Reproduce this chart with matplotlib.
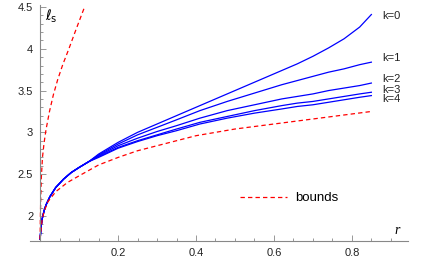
import numpy as np
import matplotlib.pyplot as plt
from matplotlib.ticker import MultipleLocator, FixedLocator
from matplotlib.lines import Line2D

plt.rcParams['font.family'] = ['Liberation Sans', 'DejaVu Sans']

# values
r_k = [0, 0.002, 0.005, 0.01, 0.015, 0.025, 0.04, 0.06, 0.08, 0.1, 0.125,
       0.15, 0.2, 0.25, 0.3, 0.35, 0.41, 0.48, 0.55, 0.62, 0.66, 0.7, 0.74, 0.78, 0.82, 0.85]
early = [1.72, 1.85, 1.96, 2.06, 2.13, 2.23, 2.34, 2.44, 2.52, 2.58, 2.65]
k0 = early + [2.74, 2.88, 3.00, 3.10, 3.20, 3.32, 3.46, 3.60, 3.74, 3.82, 3.91, 4.01, 4.12, 4.26, 4.41]
k1 = early + [2.73, 2.86, 2.97, 3.06, 3.15, 3.26, 3.37, 3.47, 3.57, 3.62, 3.67, 3.72, 3.76, 3.81, 3.84]
k2 = early + [2.72, 2.84, 2.93, 3.01, 3.08, 3.17, 3.26, 3.33, 3.40, 3.43, 3.46, 3.50, 3.53, 3.56, 3.59]
k3 = early + [2.71, 2.82, 2.90, 2.97, 3.04, 3.12, 3.19, 3.26, 3.32, 3.35, 3.37, 3.40, 3.43, 3.46, 3.48]
k4 = early + [2.70, 2.81, 2.89, 2.96, 3.02, 3.10, 3.17, 3.23, 3.28, 3.31, 3.33, 3.36, 3.39, 3.42, 3.44]
curves = [k0, k1, k2, k3, k4]
k_labels = ["k=0", "k=1", "k=2", "k=3", "k=4"]
k_label_y = [4.39, 3.89, 3.64, 3.51, 3.40]

r_low = [0, 0.005, 0.01, 0.02, 0.04, 0.07, 0.1, 0.15, 0.2, 0.25, 0.3, 0.4, 0.5, 0.6, 0.7, 0.85]
low = [1.72, 1.95, 2.05, 2.17, 2.29, 2.40, 2.48, 2.61, 2.70, 2.78, 2.84, 2.96, 3.04, 3.10, 3.16, 3.25]

r_up = [0, 0.0005, 0.0015, 0.003, 0.006, 0.01, 0.015, 0.024, 0.034, 0.045, 0.058, 0.073, 0.092, 0.114]
up = [1.72, 1.95, 2.2, 2.45, 2.7, 2.87, 3.03, 3.25, 3.45, 3.63, 3.81, 3.99, 4.23, 4.50]

fig = plt.figure(figsize=(4.22, 2.61), dpi=100)
ax = fig.add_axes([30/422, 20/261, 378/422, 236/261])

for y in curves:
    ax.plot(r_k, y, color='#0000ff', lw=0.9)
ax.plot(r_low, low, color='#ff0000', lw=0.9, dashes=(3.5, 2.5))
ax.plot(r_up, up, color='#ff0000', lw=0.9, dashes=(3.5, 2.5))

for lab, yl in zip(k_labels, k_label_y):
    ax.text(0.877, yl, lab, fontsize=8, va='center', ha='left', color='#222222')

ax.set_xlim(-0.026, 0.944)
ax.set_ylim(1.70, 4.524)

for s in ['top', 'right']:
    ax.spines[s].set_visible(False)
ax.spines['left'].set_position(('data', 0))
ax.spines['left'].set_color('#888888')
ax.spines['bottom'].set_color('#888888')
ax.spines['left'].set_linewidth(0.8)
ax.spines['bottom'].set_linewidth(0.8)

ax.xaxis.set_major_locator(FixedLocator([0.2, 0.4, 0.6, 0.8]))
ax.xaxis.set_minor_locator(MultipleLocator(0.05))
ax.yaxis.set_major_locator(FixedLocator([2, 2.5, 3, 3.5, 4, 4.5]))
ax.yaxis.set_minor_locator(MultipleLocator(0.1))
ax.set_xticklabels(["0.2", "0.4", "0.6", "0.8"])
ax.set_yticklabels(["2", "2.5", "3", "3.5", "4", "4.5"])
ax.tick_params(which='both', direction='in', color='#888888', labelsize=8,
               labelcolor='#222222', width=0.6)
ax.tick_params(which='major', length=4, pad=5)
ax.tick_params(which='minor', length=2)

fig.text(45/422, 1 - 16/261, r'$\ell_{\mathrm{s}}$', fontsize=10, va='center', ha='left')
fig.text(394/422, 1 - 231/261, 'r', fontsize=10, style='italic',
         family='Liberation Serif', va='center', ha='left')

handle = Line2D([], [], color='#ff0000', lw=0.9, dashes=(3.5, 2.5))
leg = ax.legend([handle], ['bounds'], loc='center left', frameon=False,
                bbox_to_anchor=(228/422, 1 - 198/261), bbox_transform=fig.transFigure,
                fontsize=9.5, handlelength=3.6, handletextpad=0.6)

fig.savefig('out.png', dpi=100)
